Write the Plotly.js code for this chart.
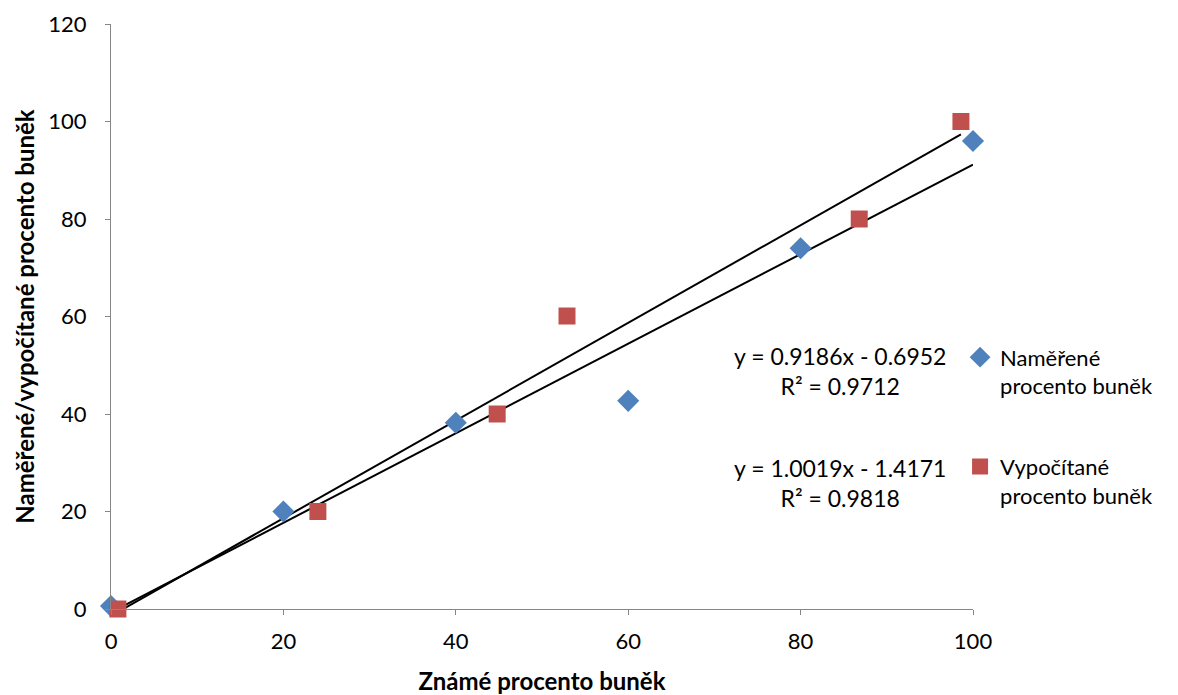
<!DOCTYPE html>
<html>
<head>
<meta charset="utf-8">
<script src="https://cdn.plot.ly/plotly-3.0.1.min.js"></script>
<style>html,body{margin:0;padding:0;background:#fff;}#chart{width:1178px;height:695px;}</style>
</head>
<body>
<div id="chart"></div>
<script>
// Data
const measuredX = [0, 20, 40, 60, 80, 100];
const measuredY = [0.6, 20, 38.2, 42.7, 74, 96];
const computedX = [0.8, 24, 44.8, 52.9, 86.8, 98.6];
const computedY = [0, 20, 40, 60.1, 80, 100];
const measuredFit = {slope: 0.9186, intercept: -0.6952, r2: 0.9712};
const computedFit = {slope: 1.0019, intercept: -1.4171, r2: 0.9818};
const seriesNames = ["Naměřené<br>procento buněk", "Vypočítané<br>procento buněk"];
const xTicks = [0, 20, 40, 60, 80, 100];
const yTicks = [0, 20, 40, 60, 80, 100, 120];

function fitLine(xs, fit) {
  const x0 = Math.min(...xs), x1 = Math.max(...xs);
  return {x: [x0, x1], y: [fit.slope * x0 + fit.intercept, fit.slope * x1 + fit.intercept]};
}
function eqText(fit) {
  const sign = fit.intercept < 0 ? " - " : " + ";
  return "y = " + fit.slope.toFixed(4) + "x" + sign + Math.abs(fit.intercept).toFixed(4) +
         "<br>R² = " + fit.r2.toFixed(4);
}

const FONT = "Lato, 'Open Sans', sans-serif";
const mLine = fitLine(measuredX, measuredFit);
const cLine = fitLine(computedX, computedFit);

const traces = [
  {x: mLine.x, y: mLine.y, mode: "lines", line: {color: "#000", width: 2}, showlegend: false, hoverinfo: "skip", cliponaxis: false},
  {x: cLine.x, y: cLine.y, mode: "lines", line: {color: "#000", width: 2}, showlegend: false, hoverinfo: "skip", cliponaxis: false},
  {x: measuredX, y: measuredY, mode: "markers", name: seriesNames[0], legendgroup: "a", cliponaxis: false,
   marker: {symbol: "diamond", size: 17, color: "#4F81BD"}},
  {x: computedX, y: computedY, mode: "markers", name: seriesNames[1], legendgroup: "b", cliponaxis: false,
   marker: {symbol: "square", size: 17, color: "#C0504D"}}
];

const layout = {
  width: 1178, height: 695,
  margin: {l: 111, r: 205, t: 24, b: 86},
  paper_bgcolor: "#fff", plot_bgcolor: "#fff",
  font: {family: FONT, size: 22, color: "#000"},
  showlegend: true,
  legend: {x: 0.985, xanchor: "left", y: 0.466, yanchor: "top", valign: "top",
           font: {family: FONT, size: 22, color: "#000"},
           tracegroupgap: 49, itemwidth: 30, bgcolor: "rgba(0,0,0,0)"},
  xaxis: {range: [0, 100], tickvals: xTicks, ticktext: xTicks.map(String), showgrid: false, zeroline: false,
          showline: true, linecolor: "#868686", linewidth: 1, ticks: "outside", ticklen: 5, tickcolor: "#868686",
          tickfont: {family: FONT, size: 22}, ticklabelstandoff: 8, fixedrange: true,
          title: {text: "<b>Známé procento buněk</b>", font: {family: FONT, size: 24}, standoff: 21}},
  yaxis: {range: [0, 120], tickvals: yTicks, ticktext: yTicks.map(String), showgrid: false, zeroline: false,
          showline: true, linecolor: "#868686", linewidth: 1, ticks: "outside", ticklen: 5, tickcolor: "#868686",
          tickfont: {family: FONT, size: 22}, ticklabelstandoff: 14, fixedrange: true,
          title: {text: "<b>Naměřené/vypočítané procento buněk</b>", font: {family: FONT, size: 24}, standoff: 6}},
  annotations: [
    {xref: "paper", yref: "paper", x: 0.846, y: 0.406, text: eqText(measuredFit), showarrow: false,
     align: "center", xanchor: "center", yanchor: "middle", font: {family: FONT, size: 23}},
    {xref: "paper", yref: "paper", x: 0.846, y: 0.216, text: eqText(computedFit), showarrow: false,
     align: "center", xanchor: "center", yanchor: "middle", font: {family: FONT, size: 23}}
  ]
};

Plotly.newPlot("chart", traces, layout, {displayModeBar: false, staticPlot: true});
</script>
</body>
</html>
